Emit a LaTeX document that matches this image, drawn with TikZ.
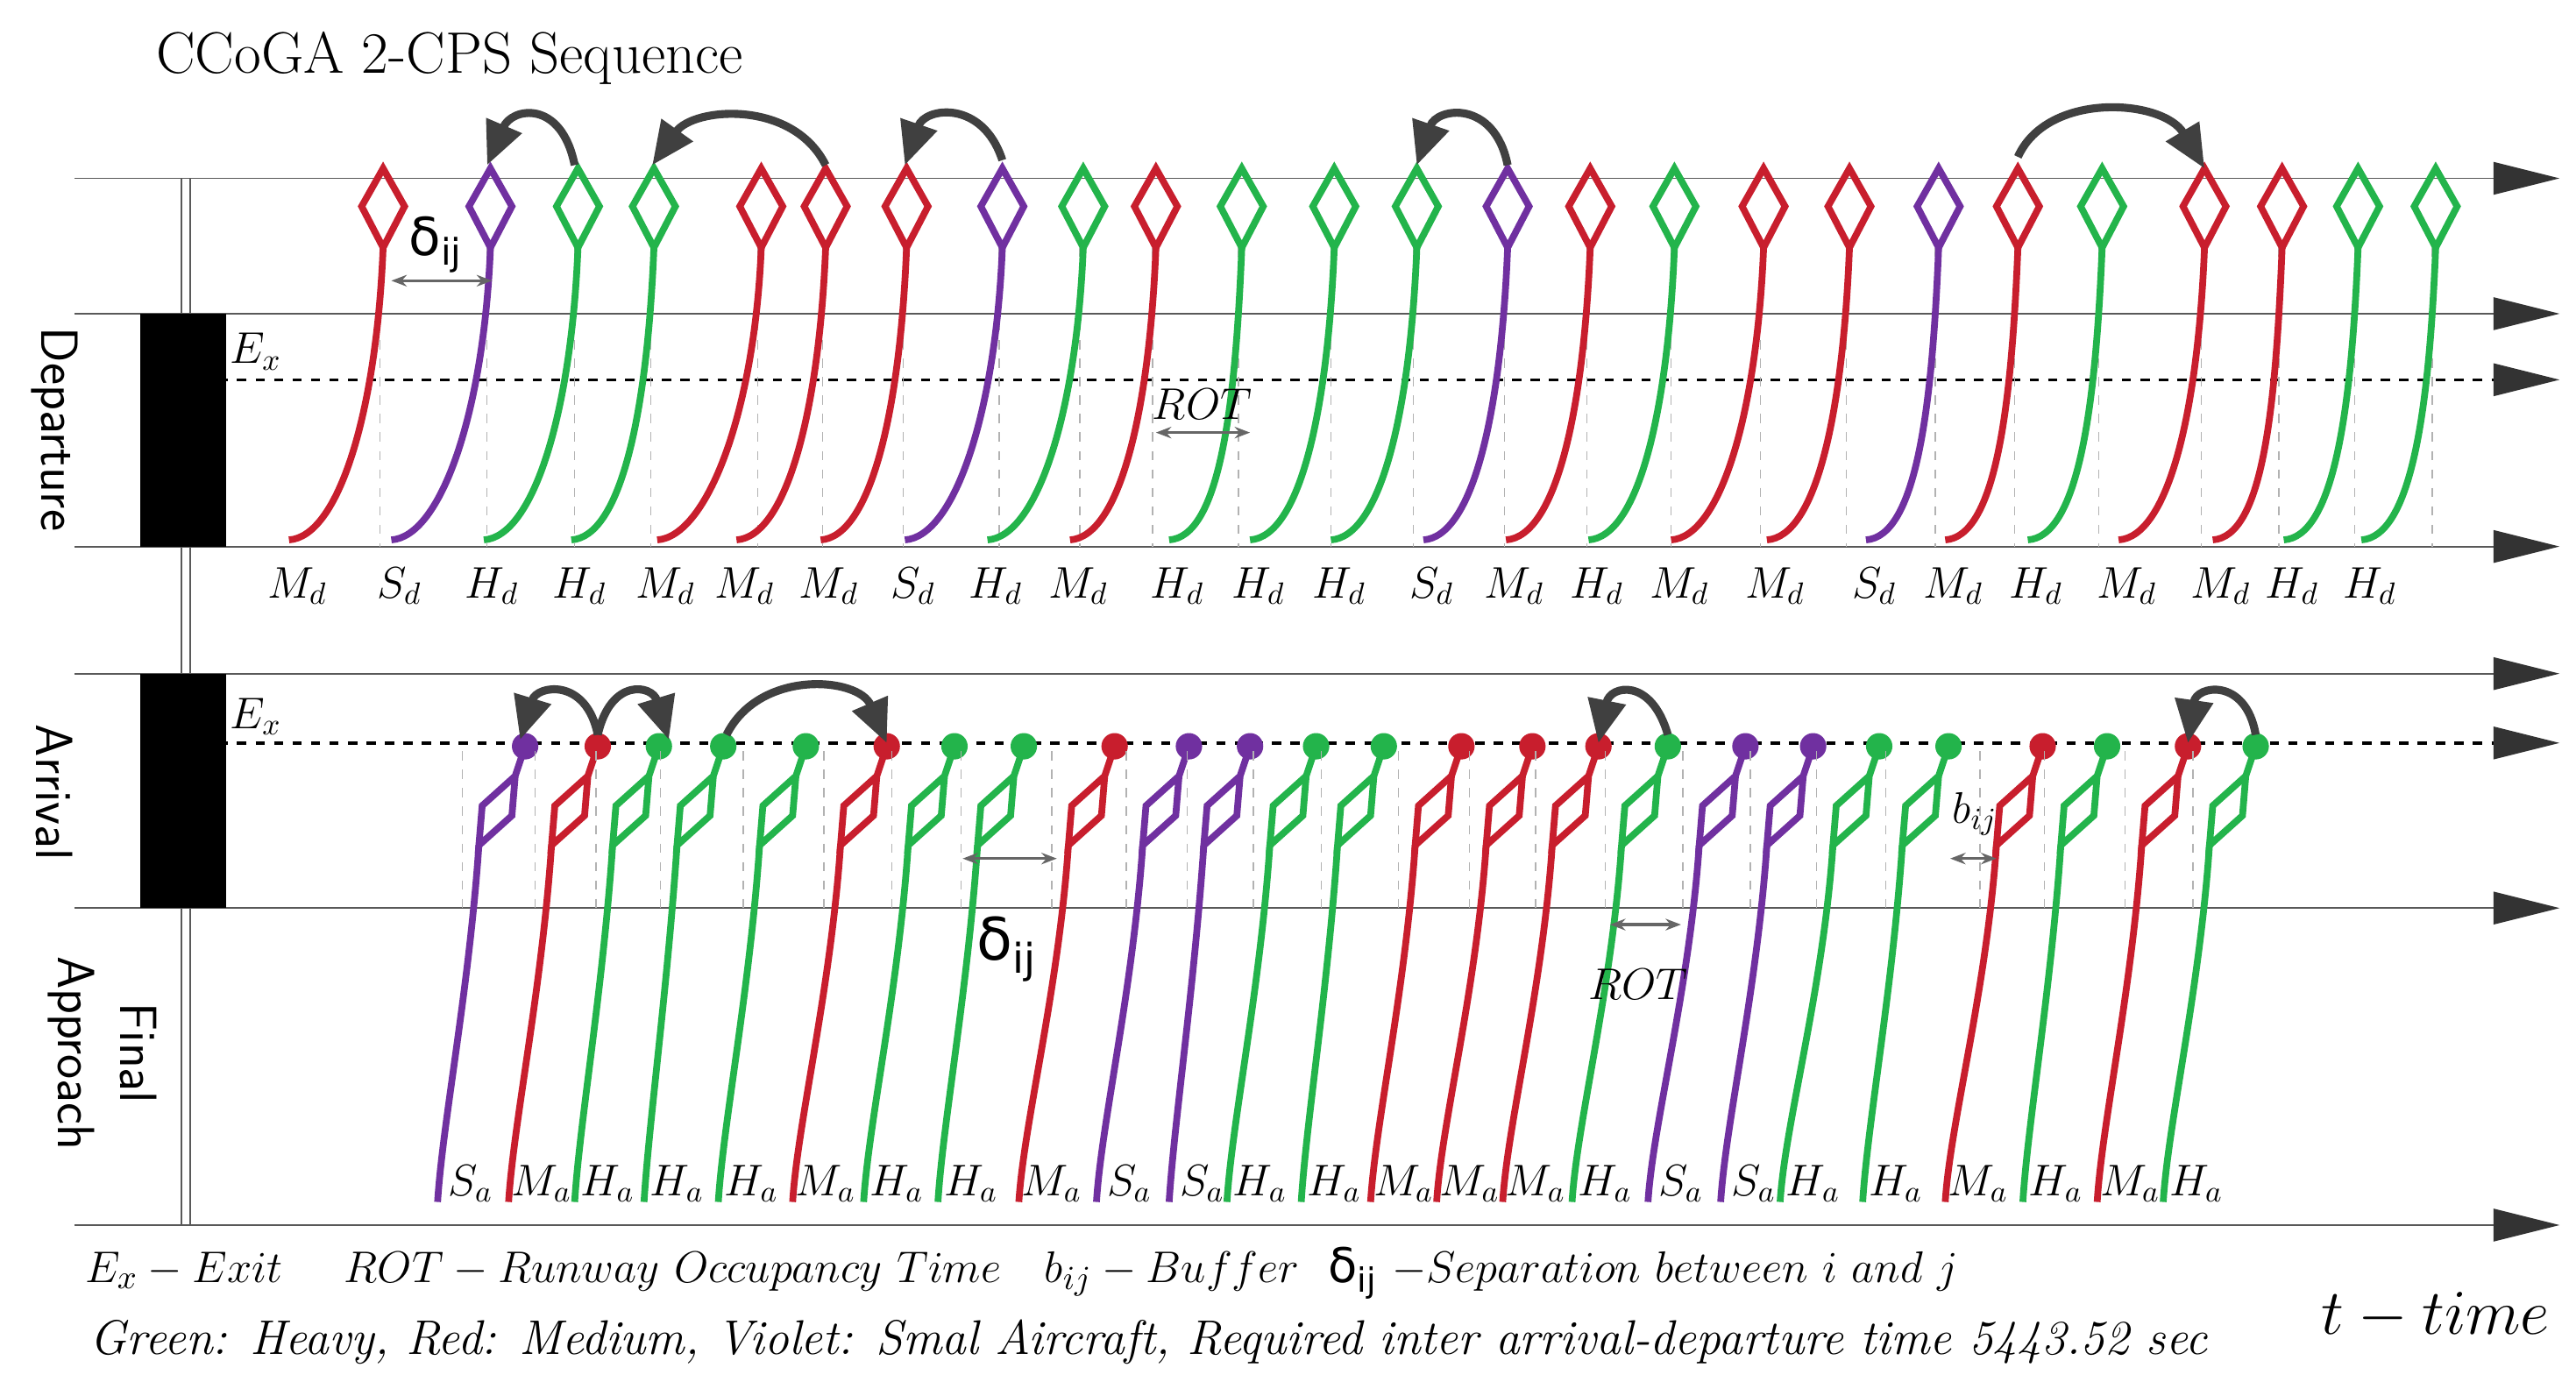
\documentclass[tikz,border=0pt]{standalone}
\usepackage{fontspec}
\usetikzlibrary{arrows.meta}
\newfontfamily\dsans{DejaVu Sans}
\newcommand{\dij}{{\dsans δ}}
\definecolor{cM}{RGB}{200,30,45}
\definecolor{cS}{RGB}{112,48,160}
\definecolor{cH}{RGB}{35,180,75}
\begin{document}
\begin{tikzpicture}[x=0.01884cm,y=-0.01884cm,
  ac/.style={line width=2.2pt},
  axis/.style={line width=0.5pt,gray!70!black},
  bigarc/.style={line width=2.6pt,black!75,-{Triangle[length=14pt,width=12pt]}},
  dim/.style={line width=1pt,black!60,{Stealth[length=5pt]}-{Stealth[length=5pt]}},
  grid/.style={gray!60,line width=0.4pt,dashed},
  lab/.style={font=\fontsize{14}{16}\selectfont},
  tip/.style={fill=black!80}]
\useasboundingbox (0,0) rectangle (1560,845.5);
\fill[white] (0,0) rectangle (1560,845.5);
\node[anchor=west,font=\fontsize{19}{22}\selectfont] (title) at (88,35) {CCoGA 2-CPS Sequence};
\foreach \yy in {108,190,331,408,550,742}{
  \draw[axis] (45,\yy) -- (1512,\yy);
  \fill[tip] (1510,\yy-10) -- (1550,\yy) -- (1510,\yy+10) -- cycle;}
\foreach \yy in {230,450}{
  \draw[dashed,line width=1pt] (110,\yy) -- (1512,\yy);
  \fill[tip] (1510,\yy-10) -- (1550,\yy) -- (1510,\yy+10) -- cycle;}
\draw[axis] (110,108) -- (110,742);
\draw[axis] (115,108) -- (115,742);
\fill[black] (85,190) rectangle (137,331);
\fill[black] (85,408) rectangle (137,550);
\node[rotate=-90,font=\fontsize{17}{19}\selectfont\sffamily] (dep) at (33,260) {Departure};
\node[rotate=-90,font=\fontsize{17}{19}\selectfont\sffamily] (arr) at (33,480) {Arrival};
\node[rotate=-90,align=center,font=\fontsize{17}{20}\selectfont\sffamily] (fa) at (62,638) {Final\\Approach};
\node[lab] (ex1) at (155,213) {$E_x$};
\node[lab] (ex2) at (155,434) {$E_x$};
\foreach \dx/\t/\lx in {232/M/175,297/S/237,350/H/293,396/H/346,461/M/398,500/M/446,549/M/497,607/S/548,656/H/598,700/M/648,752/H/708,808/H/757,858/H/806,913/S/862,963/M/912,1014/H/962,1068/M/1012,1120/M/1070,1174/S/1130,1222/M/1178,1273/H/1228,1335/M/1283,1382/M/1340,1428/H/1383,1475/H/1430}{
  \draw[grid] (\dx-2,150) -- (\dx-2,331);
  \draw[ac,c\t] (\lx,327) .. controls (\lx+30,325) and (\dx-4,250) .. (\dx,150);
  \draw[ac,c\t] (\dx,150) -- (\dx-13,125) -- (\dx,102) -- (\dx+13,125) -- cycle;
  \node[lab] at (\lx+5,355) {$\t_d$};}
\foreach \dx/\t/\lx in {318/S/285,362/M/328,399/H/368,438/H/410,488/H/455,537/M/500,578/H/543,620/H/588,675/M/637,720/S/684,757/S/728,797/H/763,838/H/808,885/M/850,928/M/890,968/M/930,1010/H/972,1057/S/1018,1098/S/1062,1138/H/1098,1180/H/1148,1237/M/1198,1276/H/1245,1325/M/1290,1366/H/1330}{
  \draw[grid] (\dx-38,455) -- (\dx-38,550);
  \draw[ac,c\t] (\dx-28,512) .. controls (\dx-34,600) and (\lx-17,680) .. (\lx-20,728);
  \draw[ac,c\t] (\dx,452) -- (\dx-6,470) -- (\dx-26,488) -- (\dx-28,512) -- (\dx-8,494) -- (\dx-6,470);
  \fill[c\t] (\dx,452) circle (8);
  \node[lab] at (\lx,717) {$\t_a$};}
\draw[bigarc] (348,100) .. controls (340,60) and (310,65) .. (295,100);
\draw[bigarc] (500,100) .. controls (480,60) and (420,65) .. (395,100);
\draw[bigarc] (607,97) .. controls (595,60) and (560,65) .. (548,100);
\draw[bigarc] (913,100) .. controls (905,60) and (870,65) .. (858,100);
\draw[bigarc] (1222,95) .. controls (1240,55) and (1310,60) .. (1335,102);
\draw[bigarc] (362,445) .. controls (355,410) and (325,415) .. (315,448);
\draw[bigarc] (362,445) .. controls (370,410) and (395,415) .. (405,448);
\draw[bigarc] (440,445) .. controls (460,405) and (520,410) .. (537,450);
\draw[bigarc] (1010,445) .. controls (1000,410) and (975,415) .. (968,450);
\draw[bigarc] (1366,445) .. controls (1360,410) and (1330,415) .. (1325,450);
\draw[dim] (237,170) -- (298,170);
\node[font=\fontsize{17}{19}\selectfont] (d1) at (264,148) {\dij\textsubscript{\dsans ij}};
\draw[dim] (700,262) -- (757,262);
\node[lab] (r1) at (728,245) {$ROT$};
\draw[dim] (583,520) -- (640,520);
\node[font=\fontsize{19}{21}\selectfont] (d2) at (610,575) {\dij\textsubscript{\dsans ij}};
\draw[dim] (975,560) -- (1018,560);
\node[lab] (r2) at (992,596) {$ROT$};
\draw[dim] (1181,520) -- (1209,520);
\node[lab] (b1) at (1196,493) {$b_{ij}$};
\node[anchor=west,font=\fontsize{15.5}{17}\selectfont] (leg1) at (45,771) {$E_x - Exit\quad\ ROT - Runway\ Occupancy\ Time\ \ \ b_{ij} - Buffer$\ \ \dij\textsubscript{\dsans ij}$\ - Separation\ between\ i\ and\ j$};
\node[anchor=west,font=\fontsize{15.8}{18}\selectfont\itshape] (leg2) at (48,813) {Green: Heavy, Red: Medium, Violet: Smal Aircraft, Required inter arrival-departure time 5443.52 sec};
\node[font=\fontsize{22}{24}\selectfont] (tt) at (1475,797) {$t-time$};
\end{tikzpicture}
\end{document}
